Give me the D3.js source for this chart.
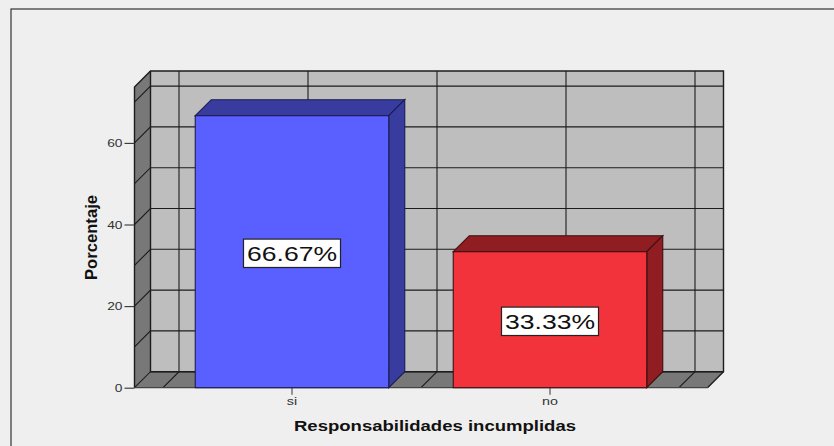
<!DOCTYPE html>
<html>
<head>
<meta charset="utf-8">
<script src="https://cdn.jsdelivr.net/npm/d3@7"></script>
<style>
html, body { margin: 0; padding: 0; background: #efefef; overflow: hidden; }
svg { display: block; }
text { font-family: "Liberation Sans", Arial, sans-serif; }
</style>
</head>
<body>
<div id="chart"></div>
<script>
const categories = ["si", "no"];
const values = [66.67, 33.33];
const valueLabels = ["66.67%", "33.33%"];
const yTicks = [0, 20, 40, 60];
const gridValues = [0, 10, 20, 30, 40, 50, 60, 70];
const yMax = 73.7;
const xTitle = "Responsabilidades incumplidas";
const yTitle = "Porcentaje";

const width = 834;
const height = 446;
const depth = 16;
const ink = "#1c1c1c";

const svg = d3.select("#chart").append("svg")
    .attr("width", width)
    .attr("height", height);

// outer chart frame
svg.append("rect")
    .attr("x", 11).attr("y", 9)
    .attr("width", 830).attr("height", 460)
    .attr("fill", "#efefef")
    .attr("stroke", "#333").attr("stroke-width", 1.2);

const scale_x = d3.scaleBand()
    .domain(categories)
    .range([163, 679])
    .paddingInner(0.25)
    .paddingOuter(0.125);
const scale_y = d3.scaleLinear().domain([0, yMax]).range([387.7, 387.7 - yMax * 4.08]);

const left = scale_x.range()[0] - 28.5;
const right = scale_x.range()[1] + 28.5;
const top_y = scale_y(yMax);
const bottom = scale_y(0);

// stretch small text to the wide look of the original
const stretch = function(sel, k) {
    sel.each(function() {
        d3.select(this)
            .attr("textLength", this.getComputedTextLength() * k)
            .attr("lengthAdjust", "spacingAndGlyphs");
    });
};

// boxes: back wall, side wall, floor
const plot = svg.append("g");
plot.append("rect")
    .attr("x", left + depth).attr("y", top_y - depth)
    .attr("width", right - left).attr("height", bottom - top_y)
    .attr("fill", "#bebebe");
plot.append("path")
    .attr("d", `M${left},${top_y}L${left + depth},${top_y - depth}V${bottom - depth}L${left},${bottom}Z`)
    .attr("fill", "#787878");
plot.append("path")
    .attr("d", `M${left},${bottom}L${left + depth},${bottom - depth}H${right + depth}L${right},${bottom}Z`)
    .attr("fill", "#787878");

// grid lines at each 10 on the wall and the side
gridValues.forEach(function(v) {
    plot.append("path")
        .attr("d", `M${left},${scale_y(v)}L${left + depth},${scale_y(v) - depth}H${right + depth}`)
        .attr("fill", "none").attr("stroke", ink).attr("stroke-width", 1.1);
});

// vertical grid at band edges and centres
const step = scale_x.step();
const xGrid = [scale_x.range()[0], scale_x.range()[0] + step / 2, scale_x.range()[0] + step,
    scale_x.range()[0] + step * 1.5, scale_x.range()[1]];
xGrid.forEach(function(x) {
    plot.append("path")
        .attr("d", `M${x},${bottom}L${x + depth},${bottom - depth}V${top_y - depth}`)
        .attr("fill", "none").attr("stroke", ink).attr("stroke-width", 1.1);
});

// box outlines
plot.append("path")
    .attr("d", `M${left},${bottom}V${top_y}L${left + depth},${top_y - depth}H${right + depth}V${bottom - depth}L${right},${bottom}`)
    .attr("fill", "none").attr("stroke", ink).attr("stroke-width", 1.4);
plot.append("path")
    .attr("d", `M${left + depth},${top_y - depth}V${bottom - depth}H${right + depth}`)
    .attr("fill", "none").attr("stroke", ink).attr("stroke-width", 1.4);

// axes
const y_axis = d3.axisLeft(scale_y).tickValues(yTicks).tickSize(10).tickPadding(2);
const x_axis = d3.axisBottom(scale_x).tickSize(7).tickPadding(3);

const gy = svg.append("g")
    .attr("transform", `translate(${left},0)`)
    .call(y_axis);
gy.select(".domain").remove();
gy.selectAll("line").attr("stroke", "#333").attr("stroke-width", 1.1);
gy.selectAll("text").attr("font-size", 11).attr("fill", "#333").call(stretch, 1.25);

const gx = svg.append("g")
    .attr("transform", `translate(0,${bottom})`)
    .call(x_axis);
gx.select(".domain").remove();
gx.selectAll("line").attr("stroke", "#444").attr("stroke-width", 1.1);
gx.selectAll("text").attr("font-size", 11).attr("fill", "#333").call(stretch, 1.3);

svg.append("line")
    .attr("x1", left).attr("x2", right)
    .attr("y1", bottom).attr("y2", bottom)
    .attr("stroke", "#444").attr("stroke-width", 1.3);

// bars
const barColors = [
    { front: "#5a5fff", top: "#393c9f", line: "#1c1c50" },
    { front: "#f2333b", top: "#8f1d22", line: "#3c1012" }
];

const bars = svg.selectAll(".bar")
    .data(values)
    .enter()
    .append("g")
    .attr("class", "bar");

bars.each(function(d, i) {
    const g = d3.select(this);
    const x0 = scale_x(categories[i]);
    const x1 = x0 + scale_x.bandwidth();
    const y0 = scale_y(d);
    const c = barColors[i];
    g.append("path")
        .attr("d", `M${x0},${y0}L${x0 + depth},${y0 - depth}H${x1 + depth}L${x1},${y0}Z`)
        .attr("fill", c.top).attr("stroke", c.line).attr("stroke-width", 1.1);
    g.append("path")
        .attr("d", `M${x1},${y0}L${x1 + depth},${y0 - depth}V${bottom - depth}L${x1},${bottom}Z`)
        .attr("fill", c.top).attr("stroke", c.line).attr("stroke-width", 1.1);
    g.append("rect")
        .attr("x", x0).attr("y", y0)
        .attr("width", x1 - x0).attr("height", bottom - y0)
        .attr("fill", c.front).attr("stroke", c.line).attr("stroke-width", 1.1);

    // value label box
    const cx = (x0 + x1) / 2;
    const cy = (y0 + bottom) / 2 + 1.6;
    g.append("rect")
        .attr("x", cx - 48.5).attr("y", cy - 14.2)
        .attr("width", 97).attr("height", 28.4)
        .attr("fill", "#fff").attr("stroke", "#222").attr("stroke-width", 1.2);
    g.append("text")
        .attr("x", cx).attr("y", cy + 7.6)
        .attr("text-anchor", "middle")
        .attr("font-size", 21)
        .attr("textLength", 90)
        .attr("lengthAdjust", "spacingAndGlyphs")
        .attr("fill", "#111")
        .text(valueLabels[i]);
});

// titles
svg.append("text")
    .attr("x", 435).attr("y", 430.5)
    .attr("text-anchor", "middle")
    .attr("font-size", 15)
    .attr("font-weight", "bold")
    .attr("textLength", 282)
    .attr("lengthAdjust", "spacingAndGlyphs")
    .attr("fill", "#111")
    .text(xTitle);
svg.append("text")
    .attr("transform", "translate(97,237.5) rotate(-90)")
    .attr("text-anchor", "middle")
    .attr("font-size", 17)
    .attr("font-weight", "bold")
    .attr("textLength", 85)
    .attr("lengthAdjust", "spacingAndGlyphs")
    .attr("fill", "#111")
    .text(yTitle);
</script>
</body>
</html>
